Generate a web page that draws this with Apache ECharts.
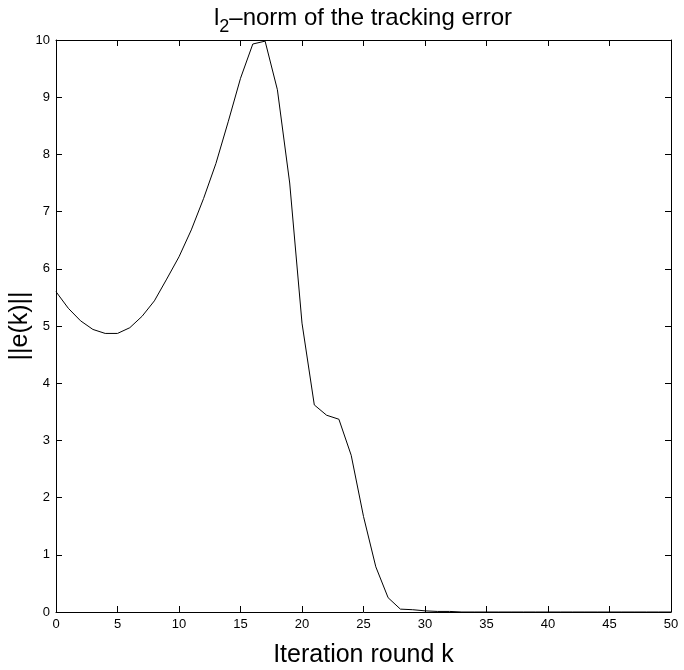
<!DOCTYPE html>
<html>
<head>
<meta charset="UTF-8" />
<title>tracking error</title>
<script src="https://cdn.jsdelivr.net/npm/echarts@6/dist/echarts.min.js"></script>
<style>
  html, body { margin: 0; padding: 0; background: #fff; }
  #main { width: 684px; height: 670px; }
</style>
</head>
<body>
<div id="main"></div>
<script>
// iteration rounds 0..50
var rounds = [];
for (var i = 0; i <= 50; i++) rounds.push(i);

// ||e(k)||
var errNorm = [
  5.60, 5.31, 5.09, 4.94, 4.87, 4.87, 4.97, 5.17, 5.44, 5.82,
  6.21, 6.68, 7.23, 7.84, 8.57, 9.33, 9.93, 9.98, 9.13, 7.50,
  5.05, 3.62, 3.44, 3.37, 2.74, 1.67, 0.79, 0.25, 0.05, 0.04,
  0.02, 0.01, 0.01, 0.00, 0.00, 0.00, 0.00, 0.00, 0.00, 0.00,
  0.00, 0.00, 0.00, 0.00, 0.00, 0.00, 0.00, 0.00, 0.00, 0.00,
  0.00
];

var xTicks = [0, 5, 10, 15, 20, 25, 30, 35, 40, 45, 50];
var yTicks = [0, 1, 2, 3, 4, 5, 6, 7, 8, 9, 10];

var font = '"Liberation Sans", Arial, sans-serif';

var points = rounds.map(function (k, idx) { return [k, errNorm[idx]]; });

var chart = echarts.init(document.getElementById('main'));

var baseAxis = {
  type: 'value',
  axisLine: { show: true, onZero: false, lineStyle: { color: '#000', width: 1 } },
  axisTick: { show: true, inside: true, length: 6, lineStyle: { color: '#000' } },
  splitLine: { show: false }
};

chart.setOption({
  backgroundColor: '#fff',
  animation: false,
  title: {
    text: '{a|l}{s|2}{a|–norm of the tracking error}',
    left: 358,
    textAlign: 'center',
    top: -4,
    textStyle: {
      fontWeight: 'normal',
      rich: {
        a: { fontFamily: font, fontSize: 24, fontWeight: 'normal', color: '#000' },
        s: { fontFamily: font, fontSize: 18, fontWeight: 'normal', color: '#000', padding: [17, 0, 0, 0] }
      }
    }
  },
  grid: { left: 56, right: 13, top: 40, bottom: 58, outerBoundsMode: 'none' },
  xAxis: [
    Object.assign({}, baseAxis, {
      position: 'bottom', min: 0, max: 50, interval: 5,
      axisLabel: {
        show: true, color: '#000', fontFamily: font, fontSize: 13, margin: 6,
        formatter: function (v) { return xTicks.indexOf(v) >= 0 ? String(v) : ''; }
      },
      name: 'Iteration round k', nameLocation: 'middle', nameGap: 31,
      nameMoveOverlap: false,
      nameTextStyle: { color: '#000', fontFamily: font, fontSize: 25 }
    }),
    Object.assign({}, baseAxis, {
      position: 'top', min: 0, max: 50, interval: 5,
      axisLabel: { show: false }
    })
  ],
  yAxis: [
    Object.assign({}, baseAxis, {
      position: 'left', min: 0, max: 10, interval: 1,
      axisLabel: {
        show: true, color: '#000', fontFamily: font, fontSize: 13, margin: 6,
        formatter: function (v) { return yTicks.indexOf(v) >= 0 ? String(v) : ''; }
      },
      name: '||e(k)||', nameLocation: 'middle', nameGap: 23, nameRotate: 90,
      nameMoveOverlap: false,
      nameTextStyle: { color: '#000', fontFamily: font, fontSize: 25 }
    }),
    Object.assign({}, baseAxis, {
      position: 'right', min: 0, max: 10, interval: 1,
      axisLabel: { show: false }
    })
  ],
  series: [{
    type: 'line',
    data: points,
    xAxisIndex: 0,
    yAxisIndex: 0,
    showSymbol: false,
    lineStyle: { color: '#000', width: 1 },
    clip: false
  }]
});
</script>
</body>
</html>
